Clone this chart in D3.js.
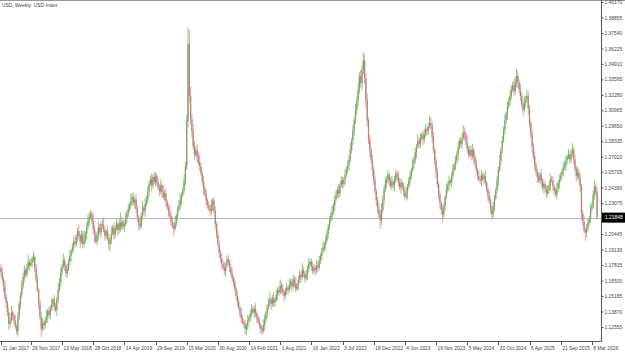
<!DOCTYPE html>
<html>
<head>
<meta charset="utf-8">
<script src="https://cdn.jsdelivr.net/npm/d3@7"></script>
<style>
  body { margin: 0; background: #fff; }
  svg { display: block; }
  text { font-family: "Liberation Sans", Arial, sans-serif; }
</style>
</head>
<body>
<div id="chart"></div>
<script>
// weekly closes, bar 0 = 11 Jan 2017
var closes = [
  1.172,1.166,1.160,1.151,1.146,1.138,1.128,1.131,1.138,1.135,1.131,1.126,1.122,1.134,1.145,1.153,1.160,1.168,1.174,1.170,
  1.176,1.181,1.178,1.180,1.183,1.185,1.176,1.166,1.157,1.146,1.134,1.124,1.129,1.127,1.131,1.134,1.139,1.136,1.141,1.145,
  1.149,1.143,1.140,1.149,1.157,1.164,1.172,1.177,1.182,1.178,1.171,1.175,1.181,1.186,1.190,1.194,1.198,1.196,1.202,1.207,
  1.203,1.198,1.204,1.196,1.199,1.205,1.211,1.216,1.219,1.222,1.216,1.209,1.203,1.198,1.204,1.210,1.206,1.213,1.212,1.208,
  1.203,1.207,1.201,1.196,1.199,1.205,1.210,1.204,1.209,1.213,1.208,1.214,1.210,1.215,1.211,1.213,1.218,1.222,1.226,1.229,
  1.233,1.236,1.231,1.234,1.226,1.219,1.214,1.211,1.220,1.227,1.224,1.230,1.234,1.241,1.247,1.251,1.246,1.253,1.249,1.254,
  1.248,1.244,1.241,1.246,1.240,1.236,1.239,1.232,1.227,1.224,1.220,1.215,1.212,1.209,1.214,1.220,1.225,1.229,1.234,1.238,
  1.242,1.250,1.262,1.300,1.366,1.322,1.302,1.292,1.279,1.272,1.276,1.270,1.266,1.262,1.256,1.249,1.243,1.238,1.233,1.229,
  1.226,1.224,1.229,1.233,1.224,1.213,1.204,1.196,1.189,1.184,1.179,1.176,1.173,1.178,1.183,1.181,1.176,1.171,1.167,1.164,
  1.158,1.152,1.147,1.142,1.137,1.133,1.130,1.128,1.124,1.126,1.131,1.134,1.137,1.141,1.138,1.141,1.137,1.133,1.130,1.127,
  1.124,1.122,1.127,1.132,1.137,1.142,1.146,1.149,1.145,1.150,1.146,1.149,1.153,1.157,1.155,1.161,1.158,1.155,1.152,1.156,
  1.159,1.157,1.161,1.164,1.160,1.166,1.163,1.158,1.161,1.166,1.170,1.168,1.174,1.171,1.167,1.170,1.175,1.179,1.181,1.177,
  1.173,1.176,1.174,1.178,1.176,1.182,1.186,1.190,1.193,1.196,1.199,1.205,1.211,1.216,1.220,1.224,1.229,1.234,1.238,1.242,
  1.239,1.246,1.250,1.247,1.251,1.255,1.259,1.263,1.268,1.276,1.284,1.293,1.301,1.310,1.318,1.327,1.339,1.333,1.344,1.352,
  1.337,1.318,1.301,1.285,1.276,1.267,1.259,1.250,1.241,1.233,1.226,1.221,1.216,1.225,1.234,1.242,1.248,1.251,1.255,1.250,
  1.245,1.249,1.246,1.250,1.256,1.253,1.249,1.244,1.248,1.245,1.241,1.236,1.239,1.245,1.250,1.254,1.259,1.264,1.268,1.274,
  1.279,1.284,1.281,1.286,1.289,1.285,1.289,1.294,1.292,1.296,1.299,1.297,1.287,1.276,1.267,1.257,1.247,1.238,1.231,1.225,
  1.221,1.228,1.236,1.242,1.246,1.250,1.248,1.254,1.259,1.263,1.267,1.272,1.278,1.284,1.281,1.286,1.291,1.289,1.283,1.277,
  1.272,1.276,1.271,1.276,1.270,1.264,1.259,1.254,1.251,1.250,1.255,1.251,1.254,1.248,1.242,1.237,1.233,1.226,1.221,1.228,
  1.235,1.242,1.250,1.259,1.267,1.276,1.284,1.293,1.301,1.307,1.313,1.318,1.322,1.327,1.331,1.326,1.334,1.339,1.333,1.327,
  1.322,1.315,1.310,1.316,1.319,1.322,1.311,1.299,1.289,1.279,1.270,1.263,1.257,1.253,1.250,1.255,1.249,1.244,1.247,1.243,
  1.239,1.242,1.246,1.251,1.250,1.245,1.241,1.238,1.243,1.248,1.251,1.254,1.258,1.261,1.263,1.267,1.270,1.272,1.268,1.273,
  1.276,1.268,1.260,1.254,1.257,1.252,1.245,1.222,1.215,1.208,1.206,1.210,1.214,1.218,1.226,1.228,1.238,1.245,1.240,1.21848
];
var firstOpen = 1.176;

// wick lengths above / below the body, in 0.001
var upperWick = [
  3,4,2,5,3,2,4,3,6,2,3,5,2,4,3,2,5,3,4,2, 3,6,2,4,3,5,2,3,4,2,3,5,4,2,3,6,2,4,3,5,
  2,4,3,2,5,3,4,2,6,3,2,4,3,5,2,3,4,6,2,3, 5,2,4,3,8,2,3,5,4,3,2,6,3,4,2,5,3,2,4,7,
  3,2,5,4,3,6,2,4,3,5,2,3,9,4,2,3,5,3,4,2, 6,3,4,2,5,3,2,4,3,6,2,5,3,4,2,3,5,2,4,3,
  2,4,3,5,2,6,3,4,2,3,5,2,4,3,6,2,3,4,5,2, 3,5,4,6,14,12,8,5,6,4,3,5,4,6,3,2,5,3,4,2,
  3,4,5,2,3,4,2,5,3,2,4,3,5,2,3,4,2,3,5,2, 3,2,4,3,2,5,3,2,4,3,5,2,3,4,2,3,5,2,3,4,
  2,3,5,4,2,3,4,6,2,3,5,2,4,3,2,5,3,4,2,3, 4,2,5,3,2,4,3,5,2,3,4,2,6,3,2,4,3,5,2,3,
  4,3,2,5,3,4,2,3,5,2,4,3,2,4,3,5,2,3,4,3, 5,2,4,3,2,5,3,4,3,6,2,4,3,5,4,6,3,5,4,7,
  5,4,6,3,4,2,5,3,4,2,3,5,4,6,3,4,5,3,4,2, 3,5,2,4,3,2,5,3,4,2,3,4,5,2,3,4,2,5,3,4,
  2,5,3,4,2,3,5,4,2,3,6,5,3,4,2,3,4,2,3,2, 4,3,2,5,3,4,2,3,5,2,4,3,5,2,3,4,6,4,3,5,
  2,4,3,5,2,3,4,2,5,3,4,2,3,5,2,3,4,2,3,4, 3,2,4,3,5,2,4,3,5,2,4,3,5,4,3,5,4,6,4,3,
  5,3,4,6,3,5,4,3,2,4,3,5,2,3,4,2,5,3,4,2, 3,4,2,5,3,4,2,3,5,2,4,3,2,5,3,4,2,5,3,4,
  6,3,4,2,5,3,4,2,3,5,2,3,4,2,5,3,4,5,3,4
];
var lowerWick = [
  4,3,5,2,4,3,5,3,2,4,3,2,3,5,2,4,3,2,4,3, 2,3,4,2,3,2,4,3,2,5,3,7,2,4,3,2,5,3,4,2,
  3,4,2,5,3,2,4,3,2,5,3,4,2,3,5,2,4,3,2,4, 3,5,2,4,3,2,5,3,4,2,3,4,6,2,3,4,2,5,3,2,
  4,3,2,5,6,3,2,4,3,2,5,3,4,2,3,5,2,4,3,2, 3,4,2,5,3,4,6,3,2,4,3,5,2,3,4,2,5,3,2,4,
  3,2,4,3,5,2,3,4,2,5,3,4,3,6,2,3,4,2,3,5, 2,3,4,3,5,6,4,5,3,4,2,5,3,4,2,3,5,2,4,3,
  2,4,3,5,2,4,3,2,5,3,4,2,3,5,2,3,4,2,3,4, 2,3,4,2,3,4,2,3,5,5,3,2,4,3,2,5,3,4,2,3,
  4,3,2,5,3,4,2,3,5,2,4,3,2,5,3,2,4,3,5,2, 3,4,2,3,5,2,4,3,2,4,3,5,2,3,4,2,5,3,2,4,
  3,2,5,3,4,2,3,4,2,3,5,2,4,3,2,4,3,5,2,3, 4,3,2,4,3,5,2,3,4,2,3,4,5,3,4,5,3,4,6,4,
  5,6,5,4,6,3,5,4,3,5,4,3,7,4,3,5,2,4,3,5, 2,4,3,5,2,3,4,2,5,3,4,2,3,5,2,4,3,2,4,3,
  5,2,3,4,2,5,3,2,4,3,2,4,5,3,4,5,3,4,5,4, 6,3,4,2,3,5,2,4,3,2,4,3,5,2,3,4,2,5,3,4,
  3,2,4,3,5,2,3,4,2,3,5,2,4,3,2,5,3,4,5,3, 4,2,3,5,2,4,3,2,4,3,5,2,4,3,2,4,3,5,4,3,
  4,3,5,2,4,3,5,4,3,5,2,4,3,5,2,3,4,2,5,3, 4,2,3,5,2,4,3,2,4,3,5,2,3,4,2,5,3,2,4,3,
  3,4,2,5,3,4,5,6,4,3,7,4,3,2,4,3,2,4,3,2
];

var priceTicks = ["1.40170","1.38855","1.37540","1.36225","1.34910","1.33595","1.32280","1.30965",
  "1.29650","1.28335","1.27020","1.25705","1.24390","1.23075","1.21760","1.20445","1.19130",
  "1.17815","1.16500","1.15185","1.13870","1.12555"];
var dateBars = [0,23,47,71,95,119,143,167,191,215,239,263,287,311,335,359,383,407,431,455];
var dateLabels = ["11 Jan 2017","26 Nov 2017","13 May 2018","28 Oct 2018","14 Apr 2019","29 Sep 2019",
  "15 Mar 2020","30 Aug 2020","14 Feb 2021","1 Aug 2021","16 Jan 2022","3 Jul 2022","18 Dec 2022",
  "4 Jun 2023","19 Nov 2023","5 May 2024","20 Oct 2024","6 Apr 2025","21 Sep 2025","8 Mar 2026"];
var title = "USD, Weekly:  USD Index";

var width = 625, height = 352,
    plotRight = 601, plotBottom = 341;

var bars = closes.map(function(c, i) {
  var o = i === 0 ? firstOpen : closes[i - 1];
  return {
    i: i, o: o, c: c,
    h: Math.max(o, c) + upperWick[i] / 1000,
    l: Math.min(o, c) - lowerWick[i] / 1000
  };
});

var x = d3.scaleLinear()
    .domain([0, closes.length - 1])
    .range([1, 1 + (closes.length - 1) * 1.2986]);

var y = d3.scaleLinear()
    .domain([1.12555, 1.40170])
    .range([327, 2]);

var svg = d3.select("#chart").append("svg")
    .attr("width", width)
    .attr("height", height);

svg.append("rect")
    .attr("width", width).attr("height", height)
    .attr("fill", "#fff");

// last price line
var last = closes[closes.length - 1];
svg.append("line")
    .attr("x1", 0).attr("x2", plotRight)
    .attr("y1", Math.round(y(last)) + 0.5).attr("y2", Math.round(y(last)) + 0.5)
    .attr("stroke", "#b4b4b4").attr("stroke-width", 1);

var candle = svg.append("g").attr("class", "candles")
  .selectAll("g")
    .data(bars)
  .enter().append("g");

candle.append("line")
    .attr("x1", function(d) { return x(d.i); })
    .attr("x2", function(d) { return x(d.i); })
    .attr("y1", function(d) { return y(d.h); })
    .attr("y2", function(d) { return y(d.l); })
    .attr("stroke", function(d) { return d.c >= d.o ? "#72d872" : "#ee98b4"; })
    .attr("stroke-width", 1);

candle.append("rect")
    .attr("x", function(d) { return x(d.i) - 0.65; })
    .attr("width", 1.3)
    .attr("y", function(d) { return y(Math.max(d.o, d.c)); })
    .attr("height", function(d) { return Math.max(0.6, Math.abs(y(d.o) - y(d.c))); })
    .attr("fill", function(d) {
      var big = Math.abs(y(d.o) - y(d.c)) > 3;
      if (big) return "#a48e72";
      return d.c >= d.o ? "#3fbf3f" : "#e0688a";
    });

// frame
svg.append("line")
    .attr("x1", 0).attr("x2", width).attr("y1", 0.5).attr("y2", 0.5)
    .attr("stroke", "#9a9a9a");
svg.append("line")
    .attr("x1", plotRight + 0.5).attr("x2", plotRight + 0.5).attr("y1", 0).attr("y2", plotBottom + 0.5)
    .attr("stroke", "#555");
svg.append("line")
    .attr("x1", 0).attr("x2", plotRight + 0.5).attr("y1", plotBottom + 0.5).attr("y2", plotBottom + 0.5)
    .attr("stroke", "#555");

// price axis
var yAxis = d3.axisRight(y)
    .tickValues(priceTicks.map(Number))
    .tickFormat(function(d, i) { return priceTicks[i]; })
    .tickSize(2)
    .tickPadding(1);

var ya = svg.append("g")
    .attr("transform", "translate(" + (plotRight + 0.5) + ",0)")
    .call(yAxis);
ya.select(".domain").remove();
ya.selectAll("line").attr("stroke", "#555");
ya.selectAll("text")
    .attr("font-size", "4.9px")
    .attr("fill", "#444");

// current price box
var lp = svg.append("g")
    .attr("transform", "translate(" + (plotRight + 1) + "," + y(last) + ")");
lp.append("rect")
    .attr("x", 0).attr("y", -5).attr("width", 24).attr("height", 10)
    .attr("fill", "#000");
lp.append("text")
    .attr("x", 3).attr("dy", "0.35em")
    .attr("font-size", "4.9px")
    .attr("fill", "#fff")
    .text(last.toFixed(5));

// time axis
var xa = svg.append("g").attr("class", "timeaxis");
xa.selectAll("line")
    .data(dateBars)
  .enter().append("line")
    .attr("x1", function(d) { return Math.round(x(d)) + 0.5; })
    .attr("x2", function(d) { return Math.round(x(d)) + 0.5; })
    .attr("y1", plotBottom).attr("y2", plotBottom + 4)
    .attr("stroke", "#555");
xa.selectAll("text")
    .data(dateBars)
  .enter().append("text")
    .attr("x", function(d) { return x(d) + 1.5; })
    .attr("y", 349.5)
    .attr("font-size", "4.9px")
    .attr("fill", "#444")
    .text(function(d, i) { return dateLabels[i]; });

svg.append("text")
    .attr("x", 2).attr("y", 6.5)
    .attr("font-size", "4.9px")
    .attr("fill", "#444")
    .text(title);
</script>
</body>
</html>
